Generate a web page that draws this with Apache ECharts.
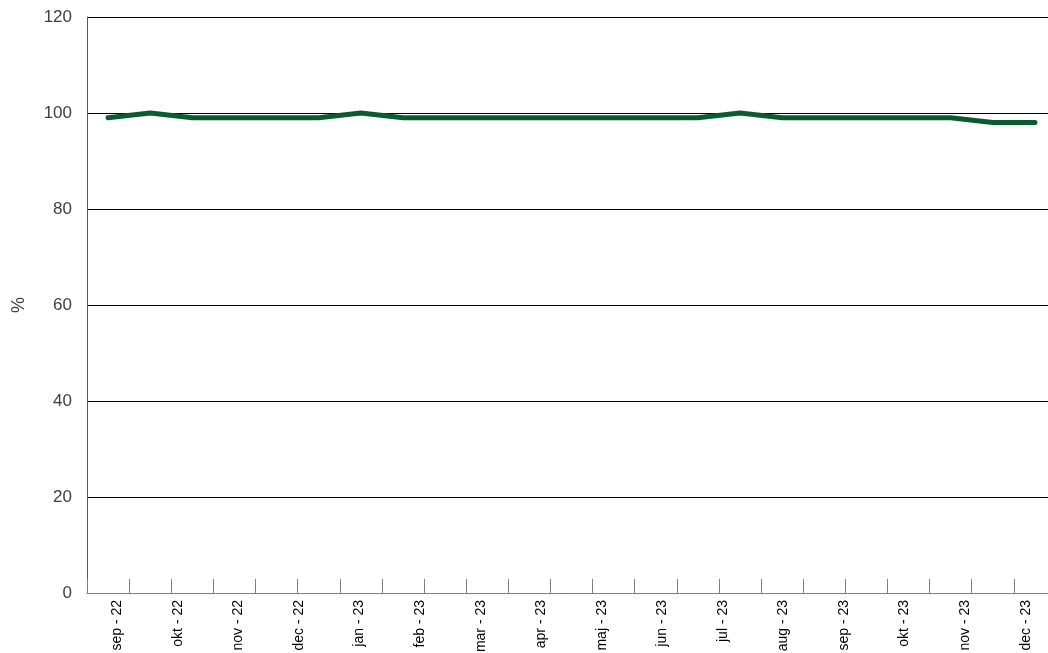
<!DOCTYPE html>
<html>
<head>
<meta charset="utf-8">
<script src="https://cdn.jsdelivr.net/npm/echarts@6/dist/echarts.min.js"></script>
<style>
html,body{margin:0;padding:0;background:#fff;overflow:hidden;}
#chart{width:1048px;height:653px;}
</style>
</head>
<body>
<div id="chart"></div>
<script>
// 23 observations plotted on a fine category axis
const pointCategories = ['p1','p2','p3','p4','p5','p6','p7','p8','p9','p10','p11','p12','p13','p14','p15','p16','p17','p18','p19','p20','p21','p22','p23'];
const seriesValues = [99,100,99,99,99,99,100,99,99,99,99,99,99,99,99,100,99,99,99,99,99,98,98];
// month labels shown on the x axis
const monthLabels = ['sep - 22','okt - 22','nov - 22','dec - 22','jan - 23','feb - 23','mar - 23','apr - 23','maj - 23','jun - 23','jul - 23','aug - 23','sep - 23','okt - 23','nov - 23','dec - 23'];
const yTicks = [0,20,40,60,80,100,120];

const chart = echarts.init(document.getElementById('chart'), null, {renderer:'canvas'});
chart.setOption({
  animation:false,
  backgroundColor:'#ffffff',
  grid:{left:87, width:969, top:17, height:576, containLabel:false, outerBoundsMode:'none'},
  xAxis:[{
    type:'category',
    data:pointCategories,
    position:'bottom',
    boundaryGap:true,
    axisLine:{show:true, lineStyle:{color:'#808080', width:1}},
    axisTick:{show:true, inside:true, length:14, interval:0, lineStyle:{color:'#808080', width:1}},
    axisLabel:{show:false},
    splitLine:{show:false}
  },{
    type:'category',
    data:monthLabels,
    position:'bottom',
    boundaryGap:true,
    axisLine:{show:false},
    axisTick:{show:false},
    axisLabel:{show:true, interval:0, rotate:90, margin:7, fontFamily:'Liberation Sans, Arial, sans-serif', fontSize:14, color:'#000'},
    splitLine:{show:false}
  }],
  yAxis:{
    type:'value',
    min:yTicks[0], max:yTicks[yTicks.length-1], interval:20,
    name:'%', nameLocation:'middle', nameGap:59, nameRotate:90,
    nameTextStyle:{fontFamily:'Liberation Sans, Arial, sans-serif', fontSize:18, color:'#404040'},
    axisLine:{show:true, lineStyle:{color:'#595959', width:1}},
    axisTick:{show:false},
    axisLabel:{margin:15, fontFamily:'Liberation Sans, Arial, sans-serif', fontSize:17, color:'#404040'},
    splitLine:{show:true, lineStyle:{color:'#000000', width:1}}
  },
  series:[{
    type:'line',
    xAxisIndex:0,
    data:seriesValues,
    symbol:'none',
    lineStyle:{color:'#0b5c2c', width:5, cap:'round', join:'round'},
    itemStyle:{color:'#0b5c2c'},
    z:5
  }]
});
</script>
</body>
</html>
